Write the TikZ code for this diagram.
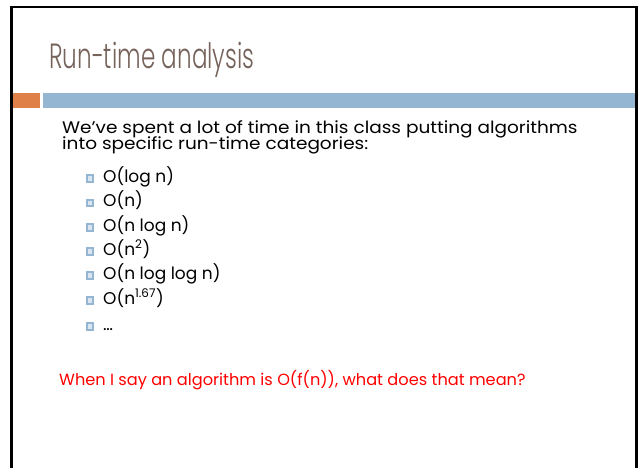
\documentclass[tikz,border=0pt]{standalone}
\usepackage{fontspec}
\setmainfont{Poppins}
\newfontfamily\titlefont[FakeStretch=0.66]{Poppins}[UprightFont=* Light]
\newfontfamily\bodyfont[FakeStretch=1.1]{Poppins}
\newcommand\mytightlines{\lineskiplimit=-20pt\relax}
\definecolor{titlec}{RGB}{117,98,90}
\definecolor{barorange}{RGB}{223,128,72}
\definecolor{barblue}{RGB}{148,182,210}
\definecolor{qred}{RGB}{255,0,0}
\begin{document}
\begin{tikzpicture}[x=1pt,y=-1pt,
  frame/.style={line width=2.5pt,black},
  bodytext/.style={anchor=base west,inner sep=0pt,align=left,font={\bodyfont\fontsize{16.8}{16}\selectfont\mytightlines}},
  itemtext/.style={anchor=base west,inner sep=0pt,font=\fontsize{17}{17}\selectfont},
  bulletbox/.style={draw=barblue,fill=barblue!35,line width=1.6pt,minimum size=6.5pt,inner sep=0pt}]
\useasboundingbox (0,0) rectangle (638,467);
\fill[white] (0,0) rectangle (638,467);
% frame
\draw[frame] (11.5,470) -- (11.5,7) -- (636.5,7) -- (636.5,470);
% title
\node[anchor=base west,inner sep=0pt,text=titlec,font=\titlefont\fontsize{35}{35}\selectfont] (title) at (49,68) {Run-time analysis};
% bars
\fill[barorange] (12.8,93) rectangle (40,108);
\fill[barblue] (43,93) rectangle (635.2,108);
% body (anchor is the baseline of the last line)
\node[bodytext] (body) at (62,149.5) {We’ve spent a lot of time in this class putting algorithms\\into specific run-time categories:};
% items
\foreach \name/\yy/\txt in {i1/182/{O(log n)},i2/206.5/{O(n)},i3/231/{O(n log n)},i4/255/{O(n\textsuperscript{2})},i5/279/{O(n log log n)},i6/304/{O(n\textsuperscript{1.67})},i7/330/{…}}{
  \node[itemtext] (\name) at (103,\yy) {\txt};
  \node[bulletbox] (\name b) at (90,\yy-3.5) {};
}
% question
\node[anchor=base west,inner sep=0pt,text=qred,font=\fontsize{16.2}{16}\selectfont] (question) at (59,385) {When I say an algorithm is O(f(n)), what does that mean?};
\end{tikzpicture}
\end{document}
